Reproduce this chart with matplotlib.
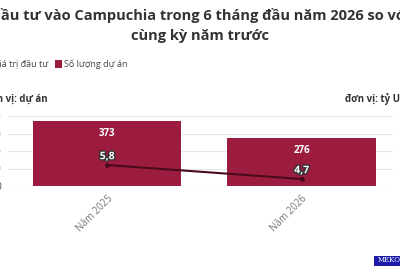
import matplotlib
matplotlib.use("Agg")
import matplotlib.pyplot as plt
import matplotlib.patheffects as pe
from matplotlib.patches import Rectangle

plt.rcParams["font.family"] = ["Open Sans", "DejaVu Sans"]

# Data
years = ["Năm 2025", "Năm 2026"]
so_luong_du_an = [373, 276]          # projects
gia_tri_dau_tu = [5.8, 4.7]          # billion USD
left_ticks = [0, 100, 200, 300, 400]

bar_color = "#9b1c3e"
line_color = "#4a0a1c"
W, H = 400, 266

fig = plt.figure(figsize=(4, 2.66), dpi=100)
fig.patch.set_facecolor("white")

ax = fig.add_axes([8 / W, 80 / H, 385 / W, 70 / H])
x = range(len(years))
ax.bar(x, so_luong_du_an, width=0.763, color=bar_color, zorder=2)
ax.set_xlim(-0.51, 1.47)
ax.set_ylim(0, 400)
ax.set_yticks(left_ticks)
ax.set_yticklabels([str(t) for t in left_ticks], fontsize=7.5, color="#555555")
ax.tick_params(axis="y", length=0, pad=5)
ax.grid(axis="y", color="#e6e6e6", linewidth=0.8, zorder=0)
for s in ax.spines.values():
    s.set_visible(False)
ax.set_xticks(list(x))
ax.set_xticklabels(years, rotation=45, ha="right", rotation_mode="anchor",
                   fontsize=7, color="#777777")
ax.tick_params(axis="x", length=0, pad=5)

for xi, v in zip(x, so_luong_du_an):
    ax.annotate(str(v), (xi, v), xytext=(0, -9), textcoords="offset points",
                ha="center", va="center", color="white", fontsize=7,
                fontweight="bold", zorder=5)

ax2 = ax.twinx()
ax2.set_ylim(4.15, 9.66)
ax2.plot(list(x), gia_tri_dau_tu, color=line_color, linewidth=1.5,
         marker="o", markersize=2.5, zorder=4)
ax2.set_yticks([])
for s in ax2.spines.values():
    s.set_visible(False)
for xi, v in zip(x, gia_tri_dau_tu):
    ax2.annotate(f"{v:.1f}".replace(".", ","), (xi, v), xytext=(0, 6),
                 textcoords="offset points", ha="center", va="center",
                 color="white", fontsize=7.5, fontweight="bold", zorder=6,
                 path_effects=[pe.withStroke(linewidth=2, foreground="#333333")])

# Title (wider than the canvas, cropped like the reference)
fig.text(0.5, 1 - 20 / H, "Đầu tư vào Campuchia trong 6 tháng đầu năm 2026 so với",
         ha="center", va="baseline", fontsize=10.5, fontweight="bold", color="#333333")
fig.text(0.5, 1 - 40 / H, "cùng kỳ năm trước",
         ha="center", va="baseline", fontsize=10.5, fontweight="bold", color="#333333")

# Legend
fig.text(48 / W, 1 - 67 / H, "Giá trị đầu tư", ha="right", va="baseline",
         fontsize=6.5, color="#444444")
fig.patches.append(Rectangle((55 / W, 1 - 68 / H), 7 / W, 8 / H,
                             transform=fig.transFigure, facecolor=bar_color,
                             edgecolor="none"))
fig.text(64 / W, 1 - 67 / H, "Số lượng dự án", ha="left", va="baseline",
         fontsize=6.5, color="#444444")

# Unit labels
fig.text(48 / W, 1 - 102 / H, "Đơn vị: dự án", ha="right", va="baseline",
         fontsize=7, fontweight="bold", color="#333333")
fig.text(345 / W, 1 - 102 / H, "đơn vị: tỷ USD", ha="left", va="baseline",
         fontsize=7, fontweight="bold", color="#333333")

# Logo
fig.patches.append(Rectangle((374 / W, 0), 26 / W, 10 / H,
                             transform=fig.transFigure, facecolor="#1c1ca8",
                             edgecolor="none"))
fig.text(378 / W, 2 / H, "MEKONG", ha="left", va="bottom", fontsize=5,
         family="DejaVu Serif", color="white")

fig.savefig("out.png", dpi=100)
